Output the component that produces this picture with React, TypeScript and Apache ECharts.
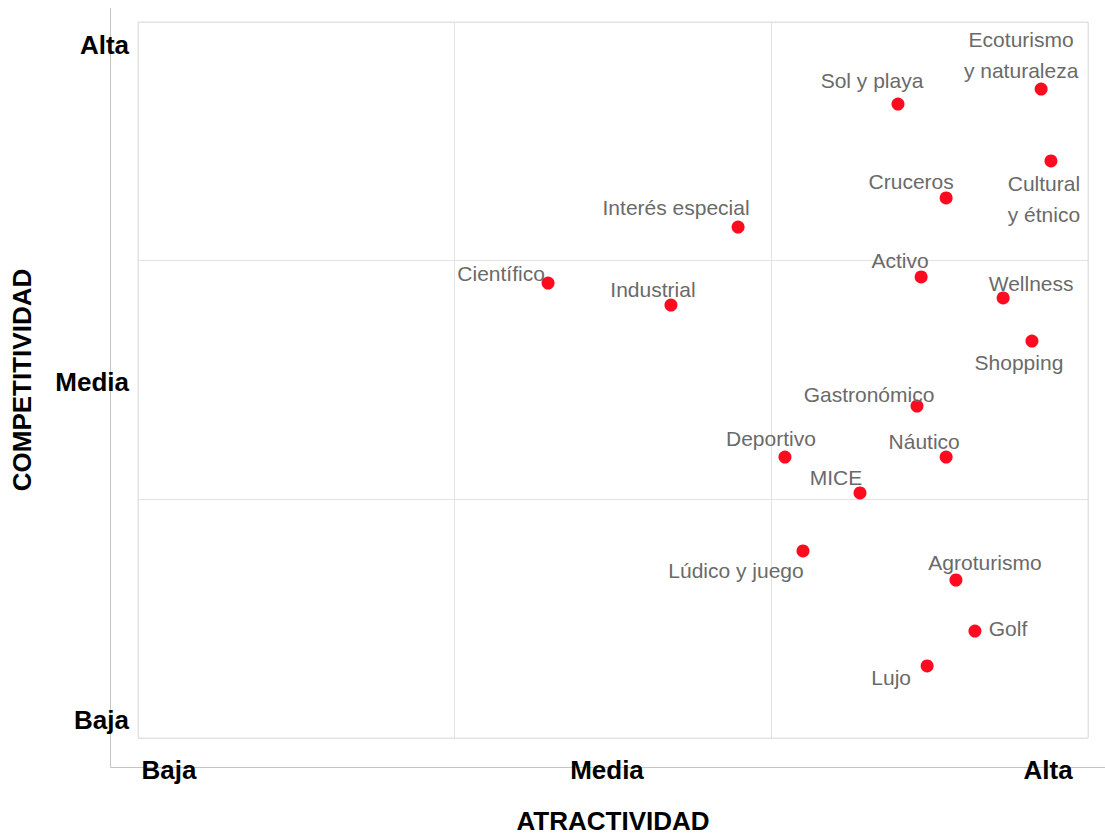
import React, { useEffect, useRef } from "react";
import * as echarts from "echarts";

// Segment names
const segments = [
  "Sol y playa",
  "Ecoturismo\ny naturaleza",
  "Cultural\ny étnico",
  "Cruceros",
  "Interés especial",
  "Científico",
  "Industrial",
  "Activo",
  "Wellness",
  "Shopping",
  "Gastronómico",
  "Deportivo",
  "Náutico",
  "MICE",
  "Lúdico y juego",
  "Agroturismo",
  "Golf",
  "Lujo",
];

// Attractiveness (x) on a 0–3 scale (three bands: Baja / Media / Alta)
const atractividad = [
  2.4, 2.852, 2.883, 2.552, 1.895, 1.295, 1.683, 2.473, 2.732, 2.823, 2.46,
  2.043, 2.552, 2.28, 2.1, 2.583, 2.643, 2.492,
];

// Competitiveness (y) on a 0–3 scale
const competitividad = [
  2.656, 2.719, 2.418, 2.263, 2.141, 1.906, 1.814, 1.932, 1.844, 1.663, 1.391,
  1.177, 1.177, 1.027, 0.784, 0.662, 0.448, 0.302,
];

// Axis tick labels and where they sit on the 0–3 scale
const levelLabels = ["Baja", "Media", "Alta"];
const xLabelPositions = [0.098, 1.481, 2.874];
const yLabelPositions = [0.075, 1.492, 2.904];

// Label offsets (pixels) relative to each point
const labelOffsets: [number, number][] = [
  [-26, -24],
  [-20, -34],
  [-7, 38],
  [-35, -16],
  [-62, -20],
  [-47, -10],
  [-18, -16],
  [-21, -16],
  [28, -14],
  [-13, 21],
  [-48, -12],
  [-14, -19],
  [-22, -16],
  [-24, -15],
  [-67, 20],
  [29, -18],
  [33, -3],
  [-36, 12],
];

const labelFor = (positions: number[], v: number) => {
  let best = 0;
  let bd = Infinity;
  positions.forEach((p, i) => {
    const d = Math.abs(p - v);
    if (d < bd) {
      bd = d;
      best = i;
    }
  });
  return levelLabels[best];
};

export default function App() {
  const ref = useRef<HTMLDivElement>(null);

  useEffect(() => {
    if (!ref.current) return;
    const chart = echarts.init(ref.current, undefined, { renderer: "svg" });

    const data = segments.map((name, i) => ({
      name,
      value: [atractividad[i], competitividad[i]],
    }));

    const tickLabelStyle = {
      color: "#000",
      fontSize: 26,
      fontWeight: "bold" as const,
      fontFamily: "Liberation Sans, Arial, sans-serif",
    };

    chart.setOption({
      animation: false,
      backgroundColor: "#fff",
      grid: {
        left: 138,
        top: 22,
        right: 17,
        bottom: 99,
        outerBoundsMode: "none",
        containLabel: false,
        show: true,
        borderColor: "#e2e2e2",
        borderWidth: 1,
        backgroundColor: "transparent",
      },
      xAxis: {
        type: "value",
        min: 0,
        max: 3,
        interval: 1,
        name: "ATRACTIVIDAD",
        nameLocation: "middle",
        nameGap: 70,
        nameTextStyle: { ...tickLabelStyle, lineHeight: 26 },
        axisLine: { show: false },
        axisTick: { show: false },
        splitLine: { show: true, lineStyle: { color: "#e2e2e2", width: 1 } },
        axisLabel: {
          ...tickLabelStyle,
          margin: 19,
          customValues: xLabelPositions,
          formatter: (v: number) => labelFor(xLabelPositions, v),
        },
      },
      yAxis: {
        type: "value",
        min: 0,
        max: 3,
        interval: 1,
        name: "COMPETITIVIDAD",
        nameLocation: "middle",
        nameGap: 103,
        nameRotate: 90,
        nameTextStyle: { ...tickLabelStyle },
        axisLine: { show: false },
        axisTick: { show: false },
        splitLine: { show: true, lineStyle: { color: "#e2e2e2", width: 1 } },
        axisLabel: {
          ...tickLabelStyle,
          margin: 9,
          customValues: yLabelPositions,
          formatter: (v: number) => labelFor(yLabelPositions, v),
        },
      },
      graphic: [
        {
          type: "polyline",
          silent: true,
          shape: {
            points: [
              [110.5, 8],
              [110.5, 767.5],
              [1105, 767.5],
            ],
          },
          style: { stroke: "#c4c4c4", lineWidth: 1, fill: null },
        },
      ],
      series: [
        {
          type: "scatter",
          symbol: "circle",
          symbolSize: 13,
          itemStyle: { color: "#ff0a1e", opacity: 1 },
          data,
          label: {
            show: true,
            position: "inside",
            formatter: (p: any) => p.name,
            color: "#6a6a6a",
            fontSize: 21,
            lineHeight: 31,
            align: "center",
            verticalAlign: "middle",
            fontFamily: "Liberation Sans, Arial, sans-serif",
          },
          labelLayout: (params: any) => ({
            dx: labelOffsets[params.dataIndex][0],
            dy: labelOffsets[params.dataIndex][1],
            hideOverlap: false,
          }),
        },
      ],
    });

    return () => chart.dispose();
  }, []);

  return (
    <div
      ref={ref}
      style={{ position: "absolute", left: 0, top: 0, width: 1105, height: 837 }}
    />
  );
}
